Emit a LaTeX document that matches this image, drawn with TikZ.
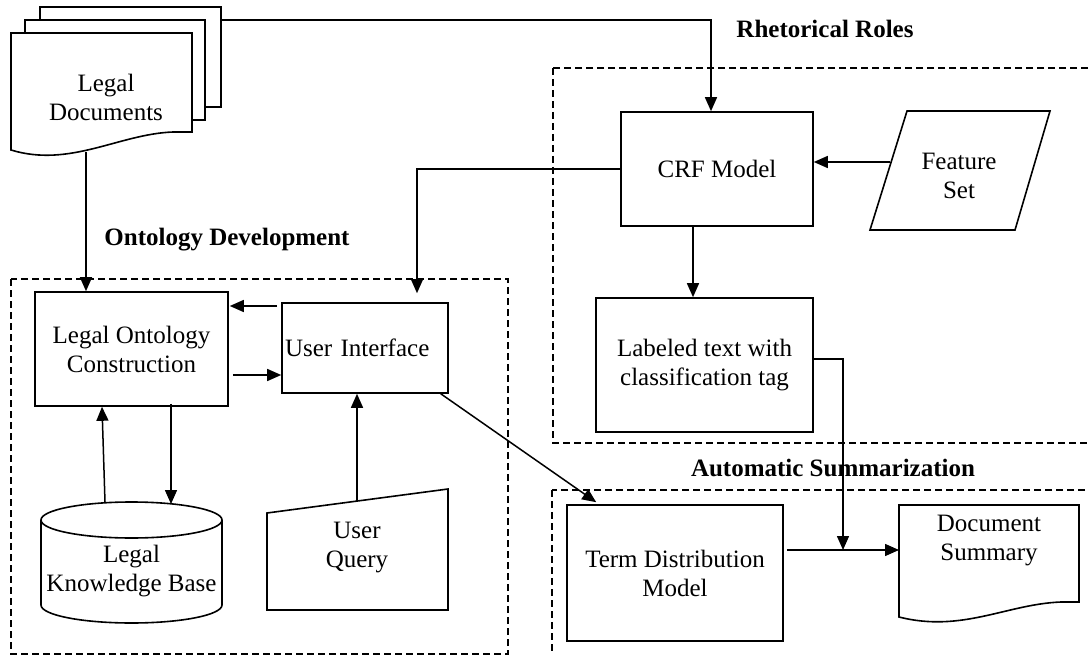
\documentclass[tikz,border=0pt]{standalone}
\usepackage{fontspec}
\setmainfont{Liberation Serif}
\usetikzlibrary{arrows.meta,calc}
\begin{document}
\begin{tikzpicture}[x=1pt,y=-1pt,
  every node/.style={font=\fontsize{25}{29}\selectfont, align=center, inner sep=0pt},
  box/.style={draw, line width=1.6pt, fill=white},
  shapeline/.style={draw, line width=1.6pt, fill=white},
  arr/.style={line width=1.5pt, -{Triangle[length=14pt,width=12pt]}},
  group/.style={draw, line width=1.3pt, dash pattern=on 7pt off 4pt},
  title/.style={font=\fontsize{25}{29}\selectfont\bfseries}]
\useasboundingbox (0,0) rectangle (1089,655);

% groups
\draw[group] (11,279) rectangle (508,654);
\draw[group] (553,68) rectangle (1100,443);
\draw[group] (552,490) rectangle (1100,665);

\node[title] (tOnt) at (227,240) {Ontology Development};
\node[title] (tRhet) at (825,29) {Rhetorical Roles};
\node[title] (tAuto) at (833,468) {Automatic Summarization};

% legal documents (stacked pages)
\draw[shapeline] (40,7) rectangle (221,107);
\draw[shapeline] (25,20) rectangle (205,120);
\draw[shapeline] (11,33) -- (192,33) -- (192,132) -- (173,132)
  .. controls (119,134) and (70,168) .. (11,150) -- cycle;
\node (docs) at (106,97) {Legal\\Documents};
\coordinate (docsR) at (221,20);
\coordinate (docsB) at (86,152);

% boxes
\node[box, minimum width=193pt, minimum height=114pt] (loc) at (131.5,349) {Legal Ontology\\Construction};
\node[box, minimum width=166pt, minimum height=90pt, text width=160pt, align=left] (ui) at (365,348) {User Interface};
\node[box, minimum width=192pt, minimum height=114pt] (crf) at (717,169) {CRF Model};
\node[box, minimum width=217pt, minimum height=134pt] (lab) at (704.5,365) {Labeled text with\\classification tag};
\node[box, minimum width=216pt, minimum height=136pt] (term) at (675,573) {Term Distribution\\Model};

% document summary
\draw[shapeline] (899,505) -- (1079,505) -- (1079,602) -- (1061,602)
  .. controls (1007,604) and (962,633) .. (899,617) -- cycle;
\node (ds) at (989,541) {Document\\Summary};
\coordinate (dsW) at (899,550);

% feature set
\draw[shapeline] (907,111) -- (1050,111) -- (1015,230) -- (870,230) -- cycle;
\node (fs) at (959,176) {Feature\\Set};
\coordinate (fsW) at (890,162);

% knowledge base cylinder
\draw[line width=1.6pt, fill=white] (41,520) -- (41,605)
  arc[start angle=180, end angle=360, x radius=90.5pt, y radius=18pt] -- (222,520)
  arc[start angle=0, end angle=180, x radius=90.5pt, y radius=18pt] -- cycle;
\draw[line width=1.6pt] (41,520) arc[start angle=180, end angle=360, x radius=90.5pt, y radius=18pt];
\node (kb) at (131.5,571) {Legal\\Knowledge Base};
\coordinate (kbN) at (131.5,502);

% user query (manual input)
\draw[shapeline] (267,513) -- (448,489) -- (448,610) -- (267,610) -- cycle;
\node (uq) at (357,548) {User\\Query};
\coordinate (uqN) at (357,501);

% connectors
\draw[arr] (docsR) -| ([xshift=-6pt]crf.north);
\draw[arr] (docsB) -- (docsB |- loc.north);
\draw[arr] (crf.west) -| ([xshift=52pt,yshift=9pt]ui.north);
\draw[arr] (fsW) -- (fsW -| crf.east);
\coordinate (crfS) at ([xshift=-24pt]crf.south);
\draw[arr] (crfS) -- (crfS |- lab.north);
\coordinate (join) at (843,550);
\draw[arr] ([yshift=6pt]lab.east) -| (join);
\coordinate (termE) at ([xshift=3pt]term.east |- join);
\draw[arr] (termE) -- (dsW);
\draw[arr] ([xshift=-8pt]ui.south east) -- ([xshift=30pt,yshift=2pt]term.north west);
\draw[arr] ([xshift=-4pt,yshift=42pt]ui.west) -- ([xshift=1pt,yshift=43pt]loc.east);
\draw[arr] ([xshift=4pt,yshift=-26pt]loc.east) -- ([yshift=-27pt]ui.west);
\draw[arr] ([xshift=-26.5pt]kbN) -- ([xshift=-29.5pt]loc.south);
\draw[arr] ([xshift=39.5pt,yshift=3pt]loc.south) -- ([xshift=39.5pt,yshift=-2pt]kbN);
\draw[arr] (uqN) -- (uqN |- ui.south);
\end{tikzpicture}
\end{document}
